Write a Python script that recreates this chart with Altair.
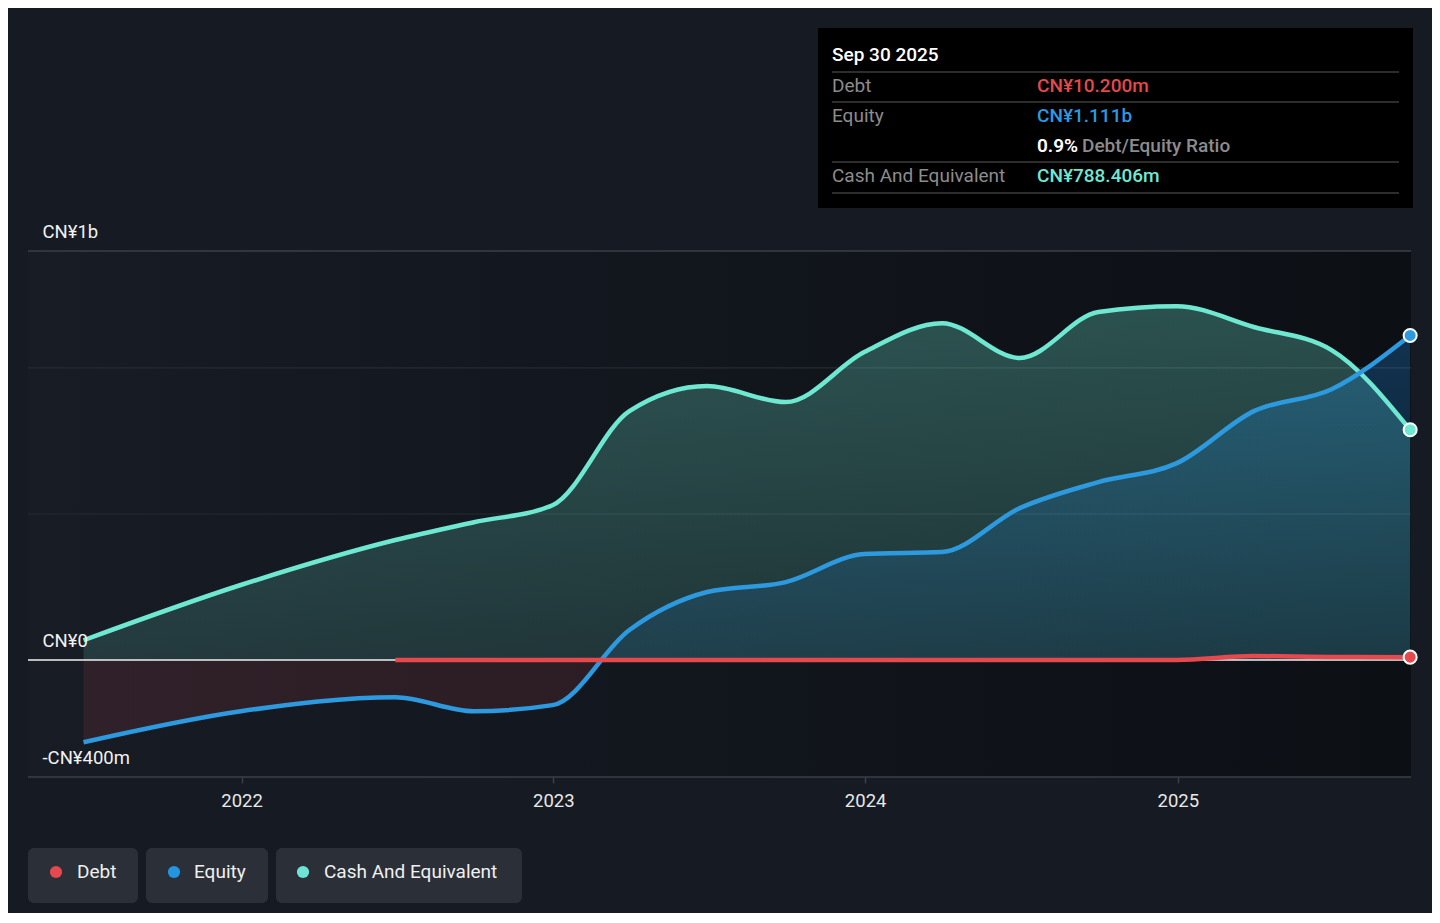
import altair as alt
import pandas as pd

# ---------------- data ----------------
dates = ["2021-06-30", "2021-12-31", "2022-06-30", "2022-09-30", "2022-12-31",
         "2023-03-31", "2023-06-30", "2023-09-30", "2023-12-31", "2024-03-31",
         "2024-06-30", "2024-09-30", "2024-12-31", "2025-03-31", "2025-06-30",
         "2025-09-30"]
equity = [-281, -175, -127, -175, -154, 103, 233, 267, 363, 370, 520, 609, 674,
          852, 927, 1111]
cash = [68, 257, 411, 472, 530, 852, 938, 883, 1054, 1153, 1034, 1191, 1211,
        1140, 1061, 788.406]
debt_dates = dates[2:]
debt = [0.3, 0.3, 0.3, 0.3, 0.3, 0.3, 0.3, 0.3, 0.3, 0.3, 0.4, 14, 11, 10.2]

ytick_values = [-400, 0, 1400]
ytick_labels = ["-CN¥400m", "CN¥0", "CN¥1b"]
grid_values = [500, 1000]
frame_values = [1400, -400]
years = [2022, 2023, 2024, 2025]
series_names = ["Debt", "Equity", "Cash And Equivalent"]
tooltip_date = "Sep 30 2025"

# ---------------- styles ----------------
RED = "#e5484d"
BLUE = "#2d9ae0"
TEAL = "#6fe8d2"
BG = "#151a23"
FONT = "Roboto"
W, H = 1383, 526
FS = 19

eq_df = pd.DataFrame({"date": dates, "value": equity})
cash_df = pd.DataFrame({"date": dates, "value": cash})
debt_df = pd.DataFrame({"date": debt_dates, "value": debt})
last_df = pd.DataFrame({
    "date": [dates[-1], dates[-1], debt_dates[-1]],
    "value": [cash[-1], equity[-1], debt[-1]],
    "series": ["Cash And Equivalent", "Equity", "Debt"],
})
one = pd.DataFrame({"a": [0]})

x_scale = alt.Scale(
    type="utc",
    domain=[alt.DateTime(year=2021, month=4, date=26, utc=True),
            alt.DateTime(year=2025, month=10, date=1, utc=True)],
)
y_scale = alt.Scale(domain=[-400, 1400], nice=False, zero=False)

label_expr = " : ".join(
    f"datum.value == {v} ? '{t}'" for v, t in zip(ytick_values, ytick_labels)
) + " : ''"

x_axis = alt.Axis(
    values=[alt.DateTime(year=y, month=1, date=1, utc=True) for y in years],
    format="%Y", domain=False, grid=False, ticks=True, tickSize=6,
    tickColor="#3a3f48", tickWidth=1.5, labelColor="#e8e8e8", labelFontSize=18.5,
    labelFont=FONT, labelPadding=8, title=None,
)
y_axis = alt.Axis(
    values=ytick_values, labelExpr=label_expr, domain=False, ticks=False,
    tickSize=0, grid=False, labelAlign="left", labelBaseline="middle",
    labelPadding=-14, labelOffset=-20, labelColor="#f2f2f2", labelFontSize=18.5,
    labelFont=FONT, title=None, zindex=1,
)

X = alt.X("date:T", scale=x_scale, axis=x_axis, title=None)
Y = alt.Y("value:Q", scale=y_scale, axis=y_axis, title=None)

# background gradient of plot area
bg = alt.Chart(one).mark_rect(
    fill=alt.Gradient(gradient="linear", x1=0, x2=1, y1=0, y2=0,
                      stops=[alt.GradientStop(color="#171c25", offset=0),
                             alt.GradientStop(color="#0c0f14", offset=1)])
).encode(x=alt.value(0), x2=alt.value(W), y=alt.value(0), y2=alt.value(H))

grid = alt.Chart(pd.DataFrame({"value": grid_values})).mark_rule(
    color="#262b33", strokeWidth=1.2).encode(y=Y)
frame = alt.Chart(pd.DataFrame({"value": frame_values})).mark_rule(
    color="#3a3f48", strokeWidth=1.5).encode(y=Y)

cash_area = alt.Chart(cash_df).mark_area(
    interpolate="monotone",
    fill=alt.Gradient(gradient="linear", x1=0, x2=0, y1=0, y2=1,
                      stops=[alt.GradientStop(color="rgba(110,230,208,0.30)", offset=0),
                             alt.GradientStop(color="rgba(110,230,208,0.15)", offset=1)]),
).encode(x=X, y=Y, y2=alt.datum(0))

z = max(equity) / (max(equity) - min(equity))
eq_area = alt.Chart(eq_df).mark_area(
    interpolate="monotone",
    fill=alt.Gradient(gradient="linear", x1=0, x2=0, y1=0, y2=1,
                      stops=[alt.GradientStop(color="rgba(30,140,230,0.28)", offset=0),
                             alt.GradientStop(color="rgba(30,140,230,0.11)", offset=z - 0.001),
                             alt.GradientStop(color="rgba(229,72,77,0.12)", offset=z),
                             alt.GradientStop(color="rgba(229,72,77,0.12)", offset=1)]),
).encode(x=X, y=Y, y2=alt.datum(0))

zero = alt.Chart(pd.DataFrame({"value": [0]})).mark_rule(
    color="#f0f0f0", strokeWidth=1.5).encode(y=Y)

cash_line = alt.Chart(cash_df).mark_line(
    interpolate="monotone", color=TEAL, strokeWidth=4.5).encode(x=X, y=Y)
eq_line = alt.Chart(eq_df).mark_line(
    interpolate="monotone", color=BLUE, strokeWidth=4.5).encode(x=X, y=Y)
debt_line = alt.Chart(debt_df).mark_line(
    interpolate="monotone", color=RED, strokeWidth=4.5).encode(x=X, y=Y)

dots = alt.Chart(last_df).mark_circle(
    size=170, opacity=1, stroke="white", strokeWidth=2).encode(
    x=X, y=Y,
    color=alt.Color("series:N", scale=alt.Scale(domain=series_names,
                                                 range=[RED, BLUE, TEAL]),
                    legend=None))

# ---------------- decorations (tooltip box, legend) ----------------
def txt(t, x, y, color, size=FS, weight=400):
    return alt.Chart(one).mark_text(
        text=t, align="left", baseline="middle", font=FONT, fontSize=size,
        fontWeight=weight, color=color).encode(x=alt.value(x), y=alt.value(y))

def hline(y, x1=804, x2=1371):
    return alt.Chart(one).mark_rule(color="#3d3d3d", strokeWidth=1.5).encode(
        x=alt.value(x1), x2=alt.value(x2), y=alt.value(y))

def box(x1, x2, y1, y2, color, r=0):
    return alt.Chart(one).mark_rect(color=color, cornerRadius=r).encode(
        x=alt.value(x1), x2=alt.value(x2), y=alt.value(y1), y2=alt.value(y2))

ratio = debt[-1] / equity[-1] * 100
tip = [
    box(790, 1385, -223, -43, "#000000"),
    txt(tooltip_date, 804, -196, "#ffffff", FS, 500),
    hline(-179), hline(-149), hline(-89), hline(-58),
    txt("Debt", 804, -165, "#8c8c8c"),
    txt(f"CN¥{debt[-1]:.3f}m", 1009, -165, RED, FS, 500),
    txt("Equity", 804, -135, "#8c8c8c"),
    txt(f"CN¥{equity[-1] / 1000:.3f}b", 1009, -135, BLUE, FS, 500),
    txt(f"{ratio:.1f}%", 1009, -105, "#ffffff", FS, 600),
    txt("Debt/Equity Ratio", 1054, -105, "#8c8c8c", FS, 500),
    txt("Cash And Equivalent", 804, -75, "#8c8c8c"),
    txt(f"CN¥{cash[-1]:.3f}m", 1009, -75, TEAL, FS, 500),
]

leg_boxes = [(0, 110), (118, 240), (248, 494)]
leg_dots = [28, 146, 275]
leg_text = [49, 166, 296]
leg_cols = [RED, "#2394df", "#6ee5d3"]
legend = []
for (bx1, bx2), dx, tx, col, name in zip(leg_boxes, leg_dots, leg_text, leg_cols, series_names):
    legend.append(box(bx1, bx2, 597, 652, "#2a2f38", 6))
    legend.append(alt.Chart(one).mark_circle(size=150, color=col, opacity=1).encode(
        x=alt.value(dx), y=alt.value(621)))
    legend.append(txt(name, tx, 621, "#f0f0f0", FS, 400))

chart = alt.layer(
    bg, grid, frame, cash_area, eq_area, zero, cash_line, eq_line, debt_line,
    dots, *tip, *legend,
).resolve_scale(color="independent").properties(
    width=W, height=H,
    background=BG,
    padding={"left": 20, "top": 243, "right": 21, "bottom": 136},
    autosize=alt.AutoSizeParams(type="none"),
).configure_view(stroke=None).configure_axis(labelFont=FONT)

chart.save("out.html", embed_options={"renderer": "svg", "actions": False})
